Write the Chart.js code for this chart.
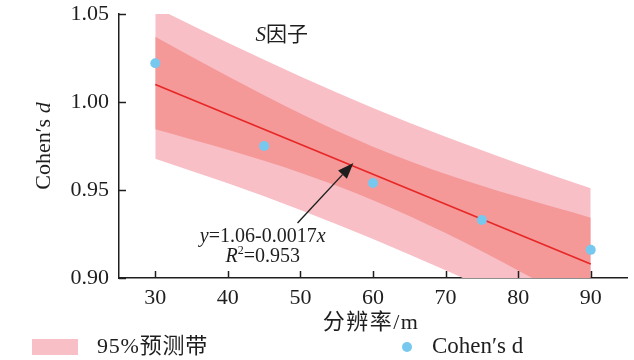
<!DOCTYPE html>
<html>
<head>
<meta charset="utf-8">
<script src="https://cdn.jsdelivr.net/npm/chart.js@4.4.1/dist/chart.umd.min.js"></script>
<style>
  html, body { margin: 0; padding: 0; background: #fff; }
  #wrap { width: 634px; height: 360px; position: relative; }
</style>
</head>
<body>
<div id="wrap"><canvas id="myChartCanvas"></canvas></div>
<script>
// observed points
const resolution = [30, 45, 60, 75, 90];
const cohensD = [1.022, 0.975, 0.954, 0.933, 0.916];

// fitted line y = 1.06 - 0.0017x (as drawn)
const fitX = [30, 90];
const fitY = [1.010, 0.908];

// bands
const bandX = [30, 40, 50, 60, 70, 80, 90];
const predUpper = [1.0538, 1.0336, 1.0145, 0.9966, 0.9802, 0.9651, 0.9510];
const predLower = [0.9678, 0.9538, 0.9387, 0.9222, 0.9044, 0.8853, 0.8650];
const confUpper = [1.0371, 1.0146, 0.9934, 0.9746, 0.9591, 0.9461, 0.9343];
const confLower = [0.9845, 0.9728, 0.9598, 0.9442, 0.9255, 0.9043, 0.8817];

const xTicks = [30, 40, 50, 60, 70, 80, 90];
const yTicks = [0.90, 0.95, 1.00, 1.05];

const LIGHT = 'rgb(248,191,199)';
const DARK = 'rgb(244,153,152)';
const RED = 'rgb(232,38,38)';
const BLUE = 'rgb(118,200,238)';
const INK = '#1e1e1e';
const SERIF = "'Liberation Serif', 'Times New Roman', 'Noto Sans CJK SC', serif";

const pts = (xs, ys) => xs.map((x, i) => ({ x: x, y: ys[i] }));

function fnt(size, italic) {
  return (italic ? 'italic ' : '') + size + 'px ' + SERIF;
}

// draw a row of text pieces with mixed styles
function drawRuns(ctx, parts, x, y, align, spacing) {
  ctx.letterSpacing = (spacing || 0) + 'px';
  let total = 0;
  parts.forEach(p => { ctx.font = p.font; p.w = ctx.measureText(p.text).width; total += p.w; });
  let cx = align === 'center' ? x - total / 2 : (align === 'right' ? x - total : x);
  ctx.textAlign = 'left';
  ctx.textBaseline = 'middle';
  parts.forEach(p => {
    ctx.font = p.font;
    ctx.fillText(p.text, cx, y + (p.dy || 0));
    cx += p.w;
  });
  ctx.letterSpacing = '0px';
}

const overlay = {
  id: 'overlay',
  afterDatasetsDraw(chart) {
    const ctx = chart.ctx;
    const xs = chart.scales.x, ys = chart.scales.y;
    const area = chart.chartArea;
    ctx.save();
    ctx.strokeStyle = INK;
    ctx.lineWidth = 1.5;
    // inward ticks
    xTicks.forEach(v => {
      const px = Math.round(xs.getPixelForValue(v)) + 0.5;
      ctx.beginPath(); ctx.moveTo(px, area.bottom); ctx.lineTo(px, area.bottom - 7); ctx.stroke();
    });
    yTicks.forEach(v => {
      const py = Math.round(ys.getPixelForValue(v)) + 0.5;
      ctx.beginPath(); ctx.moveTo(area.left, py); ctx.lineTo(area.left + 7, py); ctx.stroke();
    });

    // arrow to the fitted line
    const x0 = xs.getPixelForValue(49.6), y0 = ys.getPixelForValue(0.9313);
    const x1 = xs.getPixelForValue(57.3), y1 = ys.getPixelForValue(0.9654);
    const ang = Math.atan2(y1 - y0, x1 - x0);
    const hl = 16, hw = 6;
    const bx = x1 - hl * Math.cos(ang), by = y1 - hl * Math.sin(ang);
    ctx.strokeStyle = INK; ctx.fillStyle = INK; ctx.lineWidth = 1.4;
    ctx.beginPath(); ctx.moveTo(x0, y0); ctx.lineTo(bx, by); ctx.stroke();
    ctx.beginPath();
    ctx.moveTo(x1, y1);
    ctx.lineTo(bx + hw * Math.sin(ang), by - hw * Math.cos(ang));
    ctx.lineTo(bx - hw * Math.sin(ang), by + hw * Math.cos(ang));
    ctx.closePath(); ctx.fill();

    // annotations
    ctx.fillStyle = INK;
    const tx = xs.getPixelForValue(44.8);
    drawRuns(ctx, [
      { text: 'y', font: fnt(20, true) },
      { text: '=1.06-0.0017', font: fnt(20) },
      { text: 'x', font: fnt(20, true) }
    ], tx, ys.getPixelForValue(0.9232), 'center');
    drawRuns(ctx, [
      { text: 'R', font: fnt(20, true) },
      { text: '2', font: fnt(12), dy: -6 },
      { text: '=0.953', font: fnt(20) }
    ], tx, ys.getPixelForValue(0.9118), 'center');
    drawRuns(ctx, [
      { text: 'S', font: fnt(21, true) },
      { text: '因子', font: fnt(21) }
    ], xs.getPixelForValue(43.8), ys.getPixelForValue(1.038), 'left');
    ctx.restore();
  },
  afterDraw(chart) {
    const ctx = chart.ctx;
    const area = chart.chartArea;
    ctx.save();
    ctx.fillStyle = INK;
    // y title
    ctx.save();
    ctx.translate(44, (area.top + area.bottom) / 2);
    ctx.rotate(-Math.PI / 2);
    drawRuns(ctx, [
      { text: 'Cohen′s ', font: fnt(22) },
      { text: 'd', font: fnt(22, true) }
    ], 0, 0, 'center');
    ctx.restore();
    // x title
    drawRuns(ctx, [{ text: '分辨率/m', font: fnt(22) }], (area.left + area.right) / 2 - 2, 323, 'center', 1.5);

    // legend
    ctx.fillStyle = LIGHT;
    ctx.fillRect(32, 339, 46, 16);
    ctx.fillStyle = INK;
    drawRuns(ctx, [{ text: '95%预测带', font: fnt(22) }], 97, 347, 'left', 0.8);
    ctx.fillStyle = BLUE;
    ctx.beginPath(); ctx.arc(407, 347, 5, 0, Math.PI * 2); ctx.fill();
    ctx.fillStyle = INK;
    drawRuns(ctx, [{ text: 'Cohen′s d', font: fnt(23) }], 432, 347, 'left');
    ctx.restore();
  }
};

const bandStyle = {
  borderWidth: 0,
  borderColor: 'rgba(0,0,0,0)',
  pointRadius: 0,
  cubicInterpolationMode: 'monotone'
};

const config = {
  type: 'line',
  data: {
    datasets: [
      Object.assign({ label: '95%预测带', data: pts(bandX, predUpper), fill: '+1', backgroundColor: LIGHT, order: 4 }, bandStyle),
      Object.assign({ label: 'pred-lower', data: pts(bandX, predLower), fill: false, order: 4 }, bandStyle),
      Object.assign({ label: '95%置信带', data: pts(bandX, confUpper), fill: '+1', backgroundColor: DARK, order: 3 }, bandStyle),
      Object.assign({ label: 'conf-lower', data: pts(bandX, confLower), fill: false, order: 3 }, bandStyle),
      {
        label: '拟合线',
        data: pts(fitX, fitY),
        borderColor: RED,
        borderWidth: 1.6,
        pointRadius: 0,
        fill: false,
        order: 2
      },
      {
        type: 'scatter',
        label: 'Cohen′s d',
        data: pts(resolution, cohensD),
        backgroundColor: BLUE,
        borderWidth: 0,
        pointRadius: 5,
        order: 1
      }
    ]
  },
  options: {
    responsive: true,
    maintainAspectRatio: false,
    animation: false,
    devicePixelRatio: 1,
    layout: { padding: { top: 14, right: 7, left: 0, bottom: 0 } },
    plugins: {
      legend: { display: false },
      tooltip: { enabled: false }
    },
    scales: {
      x: {
        type: 'linear',
        min: 25,
        max: 95,
        afterBuildTicks: s => { s.ticks = xTicks.map(v => ({ value: v })); },
        afterFit: s => { s.height = 82; s.paddingLeft = 0; s.paddingRight = 0; },
        grid: { drawOnChartArea: false, drawTicks: false },
        border: { color: INK, width: 1.5 },
        ticks: { font: { family: SERIF, size: 22 }, color: INK, padding: 7 }
      },
      y: {
        type: 'linear',
        min: 0.9,
        max: 1.05,
        afterBuildTicks: s => { s.ticks = yTicks.map(v => ({ value: v })); },
        afterFit: s => { s.width = 119; s.paddingTop = 0; s.paddingBottom = 0; },
        grid: { drawOnChartArea: false, drawTicks: false },
        border: { color: INK, width: 1.5 },
        ticks: { font: { family: SERIF, size: 22 }, color: INK, padding: 10, callback: v => v.toFixed(2) }
      }
    }
  },
  plugins: [overlay]
};

const canvasEl = document.getElementById('myChartCanvas');
const chart = new Chart(canvasEl, config);
</script>
</body>
</html>
